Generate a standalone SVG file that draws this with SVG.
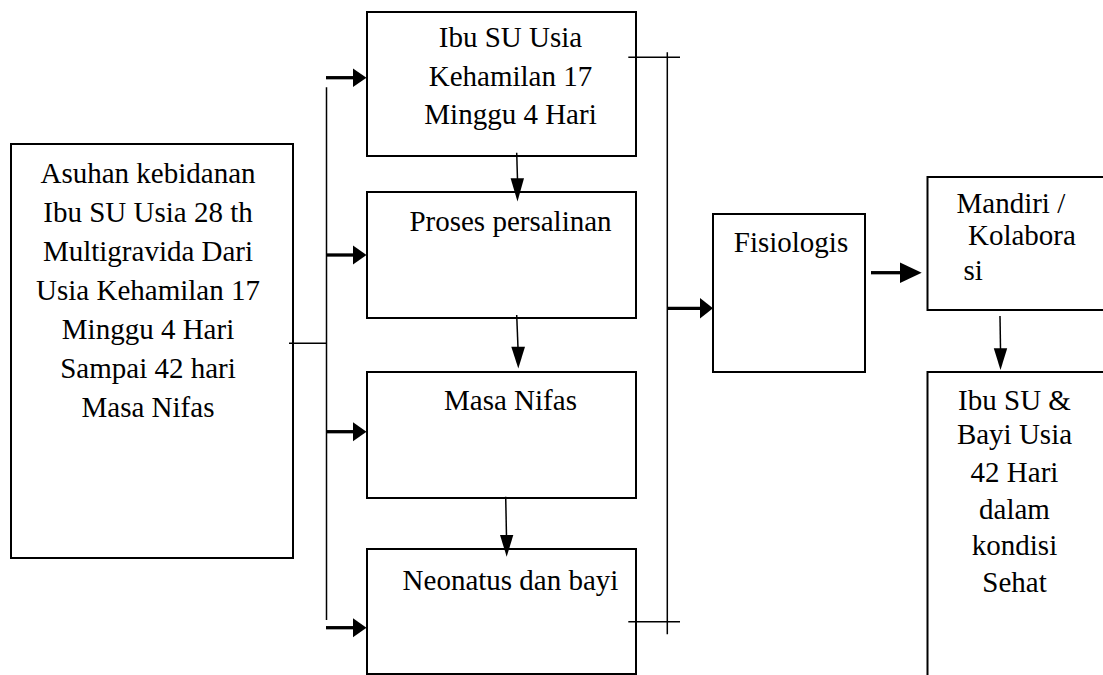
<svg xmlns="http://www.w3.org/2000/svg" width="1103" height="675" viewBox="0 0 1103 675">
<style>
.box{fill:#fff;stroke:#000;stroke-width:2}
text{font-family:'Liberation Serif','Times New Roman','DejaVu Serif',serif;font-size:29px;fill:#000}
.c{text-anchor:middle}
.thin{stroke:#000;stroke-width:1.5;fill:none}
.thick{stroke:#000;stroke-width:3.3;fill:none}
.head{fill:#000;stroke:none}
</style>
<rect width="1103" height="675" fill="#fff"/>
<g id="n-asuhan">
<rect class="box" x="11" y="144" width="282" height="414"/>
<text class="c" font-family="Liberation Serif, DejaVu Serif, serif"><tspan x="148" y="183">Asuhan kebidanan</tspan><tspan x="148" y="222">Ibu SU Usia 28 th</tspan><tspan x="148" y="261">Multigravida Dari</tspan><tspan x="148" y="300">Usia Kehamilan 17</tspan><tspan x="148" y="339">Minggu 4 Hari</tspan><tspan x="148" y="378">Sampai 42 hari</tspan><tspan x="148" y="417">Masa Nifas</tspan></text>
</g>
<g id="n-kehamilan">
<rect class="box" x="367" y="12" width="269" height="144"/>
<text class="c" font-family="Liberation Serif, DejaVu Serif, serif"><tspan x="510.5" y="47">Ibu SU Usia</tspan><tspan x="510.5" y="86">Kehamilan 17</tspan><tspan x="510.5" y="124">Minggu 4 Hari</tspan></text>
</g>
<g id="n-persalinan">
<rect class="box" x="367" y="192" width="269" height="126"/>
<text class="c" font-family="Liberation Serif, DejaVu Serif, serif" x="510.5" y="230.5">Proses persalinan</text>
</g>
<g id="n-nifas">
<rect class="box" x="367" y="372" width="269" height="126"/>
<text class="c" font-family="Liberation Serif, DejaVu Serif, serif" x="510.5" y="410">Masa Nifas</text>
</g>
<g id="n-neonatus">
<rect class="box" x="367" y="549" width="269" height="125"/>
<text class="c" font-family="Liberation Serif, DejaVu Serif, serif" x="510.5" y="590">Neonatus dan bayi</text>
</g>
<g id="n-fisiologis">
<rect class="box" x="713" y="214" width="152" height="158"/>
<text class="c" font-family="Liberation Serif, DejaVu Serif, serif" x="791" y="251.5">Fisiologis</text>
</g>
<g id="n-mandiri">
<rect class="box" x="927.5" y="177" width="200" height="133"/>
<text font-family="Liberation Serif, DejaVu Serif, serif"><tspan x="956.5" y="213">Mandiri /</tspan><tspan x="968" y="245">Kolabora</tspan><tspan x="963.5" y="280">si</tspan></text>
</g>
<g id="n-sehat">
<rect class="box" x="927.5" y="372" width="200" height="340"/>
<text class="c" font-family="Liberation Serif, DejaVu Serif, serif"><tspan x="1014.5" y="410">Ibu SU &amp;</tspan><tspan x="1014.5" y="443.5">Bayi Usia</tspan><tspan x="1014.5" y="481.5">42 Hari</tspan><tspan x="1014.5" y="518.5">dalam</tspan><tspan x="1014.5" y="555">kondisi</tspan><tspan x="1014.5" y="591.5">Sehat</tspan></text>
</g>
<g id="connectors">
<line class="thin" x1="289" y1="343.3" x2="326.5" y2="343.3"/>
<line class="thin" x1="326.5" y1="87.3" x2="326.5" y2="620"/>
<line class="thick" x1="326" y1="77.7" x2="354" y2="77.7"/>
<polygon class="head" points="353,68.5 366.5,77.7 353,87"/>
<line class="thick" x1="326" y1="255" x2="354" y2="255"/>
<polygon class="head" points="353,245.5 366.5,255 353,264.5"/>
<line class="thick" x1="326" y1="431.7" x2="354" y2="431.7"/>
<polygon class="head" points="353,422.2 366.5,431.7 353,441.2"/>
<line class="thick" x1="326" y1="627.7" x2="354" y2="627.7"/>
<polygon class="head" points="353,618.2 366.5,627.7 353,637.2"/>
<line class="thin" x1="516.7" y1="152.7" x2="517.5" y2="180"/>
<polygon class="head" points="510.6,178.3 524,178.3 517.5,201.5"/>
<line class="thin" x1="516.7" y1="315" x2="518" y2="348"/>
<polygon class="head" points="511.3,346.7 525,346.7 518.3,368.5"/>
<line class="thin" x1="505.7" y1="496.7" x2="506.5" y2="537"/>
<polygon class="head" points="500,535 513.3,535 506.7,556.7"/>
<line class="thin" x1="667.3" y1="52.3" x2="667.3" y2="634.3"/>
<line class="thin" x1="628.3" y1="57.3" x2="680" y2="57.3"/>
<line class="thin" x1="628.3" y1="621.7" x2="680" y2="621.7"/>
<line class="thick" x1="667.3" y1="308.3" x2="701" y2="308.3"/>
<polygon class="head" points="700,298 713,308.3 700,318.6"/>
<line class="thick" x1="871" y1="272.7" x2="901" y2="272.7"/>
<polygon class="head" points="900,262.5 921.7,272.7 900,283"/>
<line class="thin" x1="1000" y1="316" x2="1000.5" y2="349"/>
<polygon class="head" points="993.8,348.3 1007.2,348.3 1000.5,370"/>
</g>
</svg>
